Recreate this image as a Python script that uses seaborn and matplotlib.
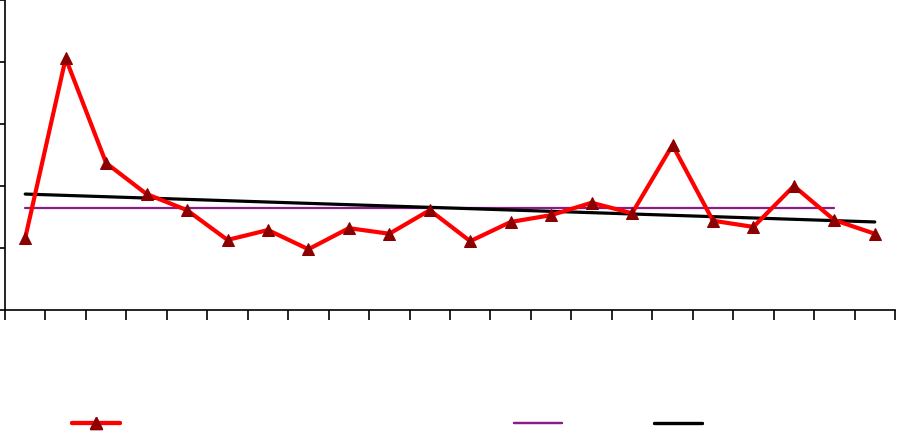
import matplotlib
matplotlib.use("Agg")
import matplotlib.pyplot as plt
import seaborn as sns
import numpy as np
from matplotlib.lines import Line2D

sns.set_style("white")

# data
categories = list(range(1, 23))
values = [1.16, 4.06, 2.37, 1.87, 1.61, 1.13, 1.29, 0.98, 1.32, 1.23, 1.61,
          1.11, 1.42, 1.53, 1.73, 1.56, 2.66, 1.44, 1.34, 2.00, 1.45, 1.23]
avg_categories = list(range(1, 22))
avg_values = [1.645] * 21
trend_categories = [1, 22]
trend_values = [1.87, 1.42]

fig = plt.figure(figsize=(8.98, 4.38), dpi=100)
ax = fig.add_axes([5/898, 1 - 310/438, 890/898, 310/438])

sns.lineplot(x=avg_categories, y=avg_values, ax=ax, color="#8B1A8B", linewidth=1.6)
sns.lineplot(x=trend_categories, y=trend_values, ax=ax, color="black", linewidth=2.3)
sns.lineplot(x=categories, y=values, ax=ax, color="#FF0000", linewidth=3.0,
             marker="^", markersize=9, markerfacecolor="#8B0000",
             markeredgecolor="#8B0000")

ax.set_xlim(0.5, 22.5)
ax.set_ylim(0, 5)
ax.set_xticks(np.arange(0.5, 23.0, 1.0))
ax.set_yticks(range(0, 6))
ax.set_xticklabels([])
ax.set_yticklabels([])
ax.tick_params(axis="x", direction="out", length=7, width=1.2, colors="black", bottom=True)
ax.tick_params(axis="y", direction="out", length=5, width=1.2, colors="black", left=True)
for s in ["top", "right"]:
    ax.spines[s].set_visible(False)
for s in ["left", "bottom"]:
    ax.spines[s].set_color("black")
    ax.spines[s].set_linewidth(1.2)
ax.set_xlabel("")
ax.set_ylabel("")

h_red = Line2D([], [], color="#FF0000", linewidth=3.0, marker="^", markersize=9,
               markerfacecolor="#8B0000", markeredgecolor="#8B0000")
h_purple = Line2D([], [], color="#8B1A8B", linewidth=1.6)
h_black = Line2D([], [], color="black", linewidth=2.3)
for h, xc in [(h_red, 96/898), (h_purple, 538/898), (h_black, 678/898)]:
    lg = fig.legend([h], [""], loc="center", bbox_to_anchor=(xc, 1 - 424/438),
                    frameon=False, handlelength=3.4, handletextpad=0.0, borderpad=0)
    fig.add_artist(lg)

fig.savefig("out.png", dpi=100)
